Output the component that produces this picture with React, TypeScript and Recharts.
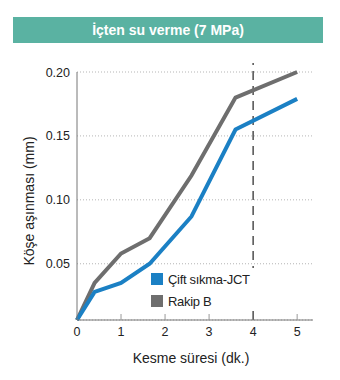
import React from 'react';
import { LineChart, Line, XAxis, YAxis, CartesianGrid, ReferenceLine } from 'recharts';

const minutes = [0, 0.4, 1, 1.65, 2.6, 3.6, 5];
const jctWear = [0.006, 0.028, 0.035, 0.05, 0.087, 0.155, 0.179];
const rivalWear = [0.006, 0.035, 0.058, 0.07, 0.119, 0.18, 0.2];
const xTicks = [0, 1, 2, 3, 4, 5];
const yTicks = [0.05, 0.1, 0.15, 0.2];
const seriesNames = ['Çift sıkma-JCT', 'Rakip B'];
const titleText = 'İçten su verme (7 MPa)';
const xLabel = 'Kesme süresi (dk.)';
const yLabel = 'Köşe aşınması (mm)';

const data = minutes.map((m, i) => ({ m, jct: jctWear[i], rival: rivalWear[i] }));

const BLUE = '#1b80c4';
const GRAY = '#6e6e6e';
const FONT = '"Liberation Sans", Arial, sans-serif';

const XTick = (props: any) => {
  const { x, y, payload } = props;
  const v = payload.value;
  return (
    <g>
      {v !== 0 && v !== 4 && (
        <line x1={x} x2={x} y1={y - 6} y2={y - 12} stroke="#9a9a9a" strokeWidth={1} />
      )}
      <text x={x} y={y + 10} textAnchor="middle" fontSize={12.5} fill="#222" fontFamily={FONT}>
        {v}
      </text>
    </g>
  );
};

const YTick = (props: any) => {
  const { x, y, payload } = props;
  return (
    <text x={x} y={y + 4.5} textAnchor="end" fontSize={12.5} fill="#222" fontFamily={FONT}>
      {payload.value.toFixed(2)}
    </text>
  );
};

const LegendBox = () => {
  const items = [
    { name: seriesNames[0], color: BLUE },
    { name: seriesNames[1], color: GRAY },
  ];
  return (
    <div style={{ position: 'absolute', left: 148, top: 268, height: 39, background: '#fff', padding: '0px 6px 0px 3px' }}>
      {items.map((it) => (
        <div key={it.name} style={{ display: 'flex', alignItems: 'center', height: 22 }}>
          <span style={{ width: 12, height: 12, background: it.color, display: 'inline-block', marginRight: 5 }} />
          <span style={{ fontFamily: FONT, fontSize: 13, color: '#222', letterSpacing: -0.3 }}>{it.name}</span>
        </div>
      ))}
    </div>
  );
};

export default function App() {
  return (
    <div style={{ position: 'fixed', left: 0, top: 0, width: 340, height: 380, background: '#fff' }}>
      <div
        style={{
          position: 'absolute',
          left: 13,
          top: 17,
          width: 310,
          height: 26,
          background: '#5ab2a2',
          color: '#fff',
          fontFamily: FONT,
          fontWeight: 'bold',
          fontSize: 14,
          lineHeight: '26px',
          textAlign: 'center',
        }}
      >
        {titleText}
      </div>
      <LineChart
        width={340}
        height={380}
        data={data}
        margin={{ top: 72, right: 27, bottom: 30, left: 0 }}
        style={{ position: 'absolute', left: 0, top: 0 }}
      >
        <CartesianGrid vertical={false} stroke="#b5b5b5" strokeDasharray="1 2" />
        <XAxis
          dataKey="m"
          type="number"
          domain={[0, 5.36]}
          ticks={xTicks}
          interval={0}
          height={30}
          tickSize={0}
          tickMargin={6}
          tickLine={false}
          axisLine={{ stroke: '#777', strokeWidth: 1 }}
          tick={<XTick />}
          label={{ value: xLabel, position: 'insideBottom', offset: -13, fontSize: 14, fill: '#222', fontFamily: FONT, dx: -4 }}
        />
        <YAxis
          type="number"
          domain={[0.006, 0.2]}
          ticks={yTicks}
          interval={0}
          width={77}
          tickSize={0}
          tickMargin={7}
          tickLine={false}
          axisLine={{ stroke: '#777', strokeWidth: 1 }}
          tick={<YTick />}
          label={{ value: yLabel, angle: -90, position: 'insideLeft', offset: 29, dy: 5, fontSize: 14, fill: '#222', fontFamily: FONT, style: { textAnchor: 'middle' } }}
        />
        <ReferenceLine
          segment={[{ x: 4, y: 0.006 }, { x: 4, y: 0.207 }]}
          ifOverflow="visible"
          stroke="#333"
          strokeWidth={1.3}
          strokeDasharray="9 6"
        />
        <Line dataKey="rival" stroke={GRAY} strokeWidth={4} dot={false} isAnimationActive={false} />
        <Line dataKey="jct" stroke={BLUE} strokeWidth={4} dot={false} isAnimationActive={false} />
      </LineChart>
      <LegendBox />
    </div>
  );
}
